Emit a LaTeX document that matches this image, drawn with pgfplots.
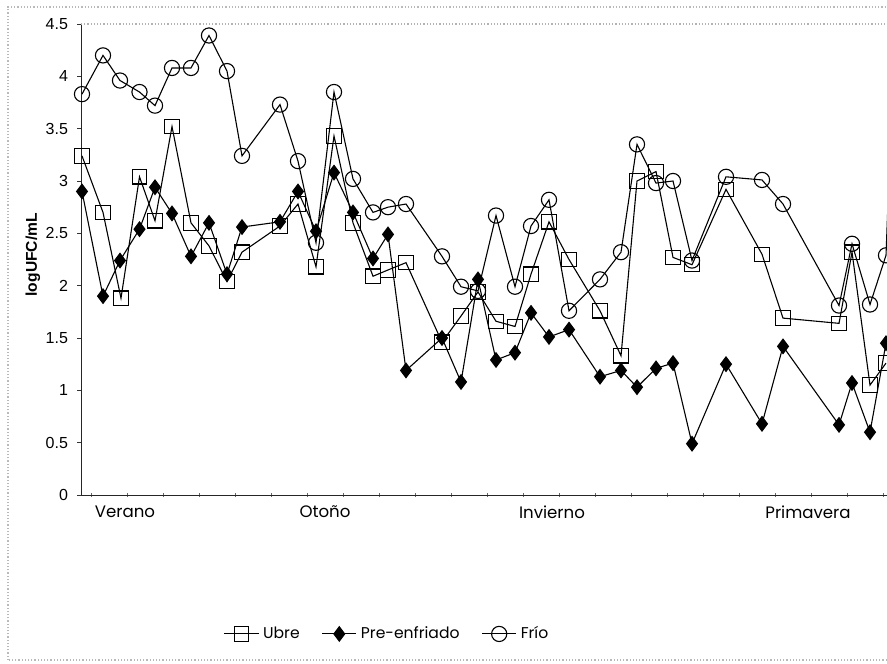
\documentclass[border=0pt]{standalone}
\usepackage{fontspec}
\setmainfont{Liberation Sans}
\newfontfamily\goth{Poppins}
\usepackage{pgfplots}
\pgfplotsset{compat=1.18}

\begin{document}
\begin{tikzpicture}[x=1pt,y=1pt]
\useasboundingbox (0,0) rectangle (443.5,331.5);
\fill[white] (0,0) rectangle (443.5,331.5);
\draw[gray!55, densely dotted, line width=0.6pt] (4,1.5) rectangle (470,328);
\begin{axis}[
  at={(40.5pt,84pt)}, anchor=south west,
  scale only axis, width=403pt, height=235.5pt,
  xmin=81, xmax=887, ymin=0, ymax=4.5,
  clip=true,
  axis x line=bottom, axis y line=left,
  axis line style={-, black!85, line width=0.5pt},
  ytick={0,0.5,1,1.5,2,2.5,3,3.5,4,4.5},
  yticklabels={0,0.5,1,1.5,2,2.5,3,3.5,4,4.5},
  yticklabel style={font=\fontsize{8}{9}\selectfont, xshift=-2pt},
  ytick style={black!80},
  major tick length=2pt,
  y tick style={/pgfplots/tick align=outside},
  xtick={125,325,552,808},
  xticklabels={Verano,Otoño,Invierno,Primavera},
  xticklabel style={font=\goth\fontsize{8.3}{10}\selectfont, yshift=-1pt},
  x tick style={draw=none},
  minor xtick={91,127,163,199,235,271,307,343,379,415,451,487,523,559,595,631,667,703,739,775,811,847,883},
  minor x tick style={draw=black!60, line width=0.4pt},
  minor tick length=2pt,
  ylabel={logUFC/mL},
  ylabel style={at={(axis description cs:-0.0596,0.51)}, anchor=center, font=\bfseries\fontsize{7.8}{9}\selectfont},
  legend style={at={(0.381,-0.295)}, anchor=center, draw=none, fill=none,
    legend columns=3, font=\goth\fontsize{7.8}{9}\selectfont,
    /tikz/every even column/.append style={column sep=9pt}},
  legend cell align=left,
  every axis plot/.append style={black, line width=0.55pt},
]
\draw[gray!60, densely dotted, line width=0.6pt] (rel axis cs:0,1) -- (rel axis cs:1,1);

% Ubre
\addplot[mark=square, mark size=3.6pt, mark options={solid, line width=0.55pt}] coordinates {
(82,3.24) (103,2.70) (121,1.88) (139.5,3.04) (155,2.62) (172,3.52) (191,2.60) (209,2.38) (227,2.04) (242,2.32)
(280,2.57) (298,2.78) (316,2.18) (334,3.43) (353,2.60) (373,2.09) (388,2.15) (406,2.22)
(442,1.46) (461,1.71) (478,1.94) (496,1.66) (515,1.61) (531,2.11) (549,2.61) (569,2.25)
(600,1.76) (621,1.33) (637,3.00) (656,3.09) (673,2.27) (692,2.20) (726,2.92) (762,2.30) (783,1.69)
(839,1.64) (852,2.32) (870,1.05) (886,1.26)
};
\addlegendentry{Ubre}

% Pre-enfriado
\addplot[mark=diamond*, mark size=3.6pt, mark options={solid, fill=black}] coordinates {
(82,2.90) (103,1.90) (120,2.24) (139.5,2.54) (155,2.94) (172,2.69) (191,2.28) (209,2.60) (227,2.11) (242,2.56)
(280,2.61) (298,2.90) (316,2.52) (334,3.08) (353,2.70) (373,2.26) (388,2.49) (406,1.19)
(442,1.50) (461,1.08) (478,2.06) (496,1.29) (515,1.36) (531,1.74) (549,1.51) (569,1.58)
(600,1.13) (621,1.19) (637,1.03) (656,1.21) (673,1.26) (692,0.49) (726,1.25) (762,0.68) (783,1.42)
(839,0.67) (852,1.07) (870,0.60) (886,1.45)
};
\addlegendentry{Pre-enfriado}

% Frio
\addplot[mark=o, mark size=3.8pt, mark options={solid, line width=0.55pt}] coordinates {
(82,3.83) (103,4.20) (120,3.96) (139.5,3.85) (155,3.72) (172,4.08) (191,4.08) (209,4.39) (227,4.05) (242,3.24)
(280,3.73) (298,3.19) (316,2.41) (334,3.85) (353,3.02) (373,2.70) (388,2.75) (406,2.78)
(442,2.28) (461,1.99) (478,1.95) (496,2.67) (515,1.99) (531,2.57) (549,2.82) (569,1.76)
(600,2.06) (621,2.32) (637,3.35) (656,2.98) (673,3.00) (692,2.24) (726,3.04) (762,3.01) (783,2.78)
(839,1.81) (852,2.40) (870,1.82) (886,2.29) (888,2.80)
};
\addlegendentry{Frío}
\end{axis}
\end{tikzpicture}
\end{document}
